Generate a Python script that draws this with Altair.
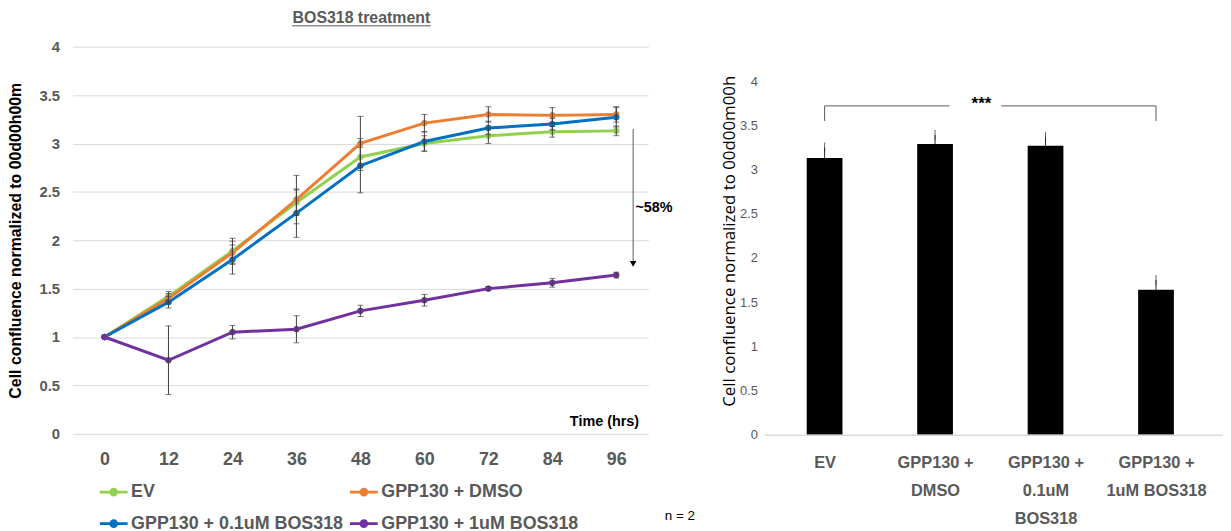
import altair as alt
import pandas as pd

# ---------------- data ----------------
times = ["0", "12", "24", "36", "48", "60", "72", "84", "96"]
series = ["EV", "GPP130 + DMSO", "GPP130 + 0.1uM BOS318", "GPP130 + 1uM BOS318"]
colors = ["#92D050", "#ED7D31", "#0070C0", "#7030A0"]

ev_mean = [1.00, 1.42, 1.89, 2.39, 2.86, 3.00, 3.08, 3.12, 3.13]
dmso_mean = [1.00, 1.40, 1.87, 2.42, 3.00, 3.21, 3.30, 3.29, 3.30]
low_mean = [1.00, 1.36, 1.80, 2.28, 2.77, 3.02, 3.16, 3.20, 3.27]
high_mean = [1.00, 0.76, 1.05, 1.08, 1.27, 1.38, 1.50, 1.56, 1.64]

ev_err = [0.0, 0.05, 0.13, 0.13, 0.10, 0.08, 0.08, 0.055, 0.05]
dmso_err = [0.0, 0.05, 0.12, 0.25, 0.28, 0.09, 0.08, 0.08, 0.08]
low_err = [0.0, 0.06, 0.15, 0.25, 0.28, 0.10, 0.07, 0.06, 0.10]
high_err = [0.0, 0.355, 0.07, 0.14, 0.058, 0.06, 0.02, 0.045, 0.03]

bar_labels = [["EV"], ["GPP130 +", "DMSO"], ["GPP130 +", "0.1uM", "BOS318"], ["GPP130 +", "1uM BOS318"]]
bar_pos = [0, 1, 2, 3]
bar_vals = [3.13, 3.29, 3.27, 1.64]
bar_err = [0.12, 0.10, 0.10, 0.11]

y_ticks = [0, 0.5, 1, 1.5, 2, 2.5, 3, 3.5, 4]

# ---------------- tables ----------------
rows = []
for s, m, e in zip(series, [ev_mean, dmso_mean, low_mean, high_mean],
                   [ev_err, dmso_err, low_err, high_err]):
    for i, (t, mv, ev) in enumerate(zip(times, m, e)):
        rows.append({"time": t, "idx": i, "series": s, "mean": mv, "err": ev,
                     "lo": mv - ev, "hi": mv + ev})
df = pd.DataFrame(rows)
df_err = df[df["err"] > 0]
caps = pd.concat([
    df_err[["time", "series"]].assign(v=df_err["lo"]),
    df_err[["time", "series"]].assign(v=df_err["hi"]),
])

FONT = "Liberation Sans"
GRAY = "#595959"
LEG_PATH = "M-1,0L1,0M-0.2,0A0.2,0.2,0,1,1,0.2,0A0.2,0.2,0,1,1,-0.2,0Z"

xenc = alt.X("time:O", sort=times,
             scale=alt.Scale(type="point", domain=times, padding=0.5),
             axis=alt.Axis(title=None, labelAngle=0, labelFont=FONT, labelFontWeight="bold",
                           labelFontSize=18, labelColor=GRAY, labelPadding=17,
                           ticks=False, domain=False, grid=False))
yscale = alt.Scale(domain=[0, 4], nice=False, zero=True)
yaxis = alt.Axis(title="Cell confluence normalized to 00d00h00m", titleFont=FONT,
                 titleFontSize=16, titleFontWeight="bold", titleColor="black", titleX=-49,
                 values=y_ticks, format=".2~f", labelFont=FONT, labelFontSize=15,
                 labelFontWeight="bold", labelColor=GRAY, labelPadding=13, ticks=False,
                 domain=False, gridColor="#d9d9d9", gridWidth=1, labelOverlap=False)

legend = alt.Legend(title=None, orient="none", legendX=26, legendY=433, columns=2,
                    direction="horizontal",
                    symbolType=LEG_PATH, symbolSize=784, symbolStrokeWidth=3,
                    labelFont=FONT, labelFontSize=18, labelFontWeight="bold",
                    labelColor=GRAY, labelOffset=2, labelLimit=400,
                    columnPadding=0, rowPadding=7, symbolOpacity=1)
cscale = alt.Scale(domain=series, range=colors)
senc = alt.Stroke("series:N", scale=cscale, legend=legend)
fenc = alt.Fill("series:N", scale=cscale, legend=legend)

base = alt.Chart(df)
lines = base.mark_line(strokeWidth=3).encode(
    x=xenc, y=alt.Y("mean:Q", scale=yscale, axis=yaxis), stroke=senc, order="idx:Q")
points = base.mark_point(filled=True, size=32, opacity=1, strokeWidth=1).encode(
    x=xenc, y=alt.Y("mean:Q", scale=yscale), fill=fenc, stroke=senc)
ebars = alt.Chart(df_err).mark_rule(color="#404040", strokeWidth=1).encode(
    x=xenc, y=alt.Y("lo:Q", scale=yscale), y2="hi:Q")
ecaps = alt.Chart(caps).mark_tick(color="#404040", thickness=1, size=6).encode(
    x=xenc, y=alt.Y("v:Q", scale=yscale))

ann_time = alt.Chart(pd.DataFrame({"time": ["96"], "v": [0.12], "t": ["Time (hrs)"]})).mark_text(
    align="right", dx=23, font=FONT, fontSize=14.5, fontWeight="bold", color="black").encode(
    x=xenc, y=alt.Y("v:Q", scale=yscale), text="t:N")
ann_pct = alt.Chart(pd.DataFrame({"time": ["96"], "v": [2.33], "t": ["~58%"]})).mark_text(
    align="center", dx=38, font=FONT, fontSize=14.5, fontWeight="bold", color="black").encode(
    x=xenc, y=alt.Y("v:Q", scale=yscale), text="t:N")
ann_n = alt.Chart(pd.DataFrame({"time": ["96"], "v": [-0.85], "t": ["n = 2"]})).mark_text(
    align="center", dx=64, font=FONT, fontSize=13.5, color="black").encode(
    x=xenc, y=alt.Y("v:Q", scale=yscale), text="t:N")
arrow = alt.Chart(pd.DataFrame({"time": ["96"], "a": [3.15], "b": [1.77]})).mark_rule(
    xOffset=17, color="#595959", strokeWidth=1).encode(
    x=xenc, y=alt.Y("a:Q", scale=yscale), y2="b:Q")
head = alt.Chart(pd.DataFrame({"time": ["96"], "b": [1.755]})).mark_point(
    shape="triangle-down", filled=True, size=45, xOffset=17, color="black", opacity=1).encode(
    x=xenc, y=alt.Y("b:Q", scale=yscale))
title_txt = alt.Chart(pd.DataFrame({"t": ["BOS318 treatment"]})).mark_text(
    font=FONT, fontSize=16, fontWeight="bold", color=GRAY, align="center", baseline="middle").encode(
    x=alt.value(291), y=alt.value(-29), text="t:N")
title_ul = alt.Chart(pd.DataFrame({"t": [0]})).mark_rule(color=GRAY, strokeWidth=1).encode(
    x=alt.value(221), x2=alt.value(361), y=alt.value(-21))

left = alt.layer(lines, points, ebars, ecaps, ann_time, ann_pct, ann_n, arrow, head,
                 title_txt, title_ul).properties(width=580, height=390)

# ---------------- right bar chart ----------------
bdf = pd.DataFrame({"pos": bar_pos, "cond": series, "v": bar_vals, "e": bar_err})
bdf["top"] = bdf["v"] + bdf["e"]
label_expr = "[" + ",".join("[" + ",".join("'%s'" % s for s in lab) + "]" for lab in bar_labels) + "][datum.value]"

bxscale = alt.Scale(domain=[-0.5, 3.5615], nice=False, zero=False)
bx = alt.X("pos:Q", scale=bxscale,
           axis=alt.Axis(title=None, values=bar_pos, labelExpr=label_expr, labelFont=FONT,
                         labelFontSize=16.5, labelFontWeight="bold", labelColor=GRAY,
                         labelLineHeight=28, labelPadding=20, labelFlush=False,
                         labelOverlap=False, ticks=False, domain=True, domainColor="#d9d9d9",
                         domainWidth=1.5, grid=False, zindex=1))
bscale = alt.Scale(domain=[0, 4.39], nice=False, zero=True)
byaxis = alt.Axis(title="Cell confluence normalized to 00d00m00h", titleFont="Open Sans",
                  titleFontSize=17, titleFontWeight="normal", titleColor="black", titleX=-26,
                  values=y_ticks, format=".2~f",
                  labelFont="Liberation Sans Narrow, Liberation Sans, sans-serif",
                  labelFontSize=13, labelColor=GRAY, labelPadding=7, ticks=False,
                  domain=False, grid=False, labelOverlap=False)

bars = alt.Chart(bdf).mark_bar(size=36, color="black").encode(
    x=bx, y=alt.Y("v:Q", scale=bscale, axis=byaxis))
berr = alt.Chart(bdf).mark_rule(color="#262626", strokeWidth=1).encode(
    x=bx, y=alt.Y("v:Q", scale=bscale), y2="top:Q")
bcap = alt.Chart(bdf).mark_tick(color="#262626", thickness=1, size=10).encode(
    x=bx, y=alt.Y("top:Q", scale=bscale))

seg = pd.DataFrame({"x": [0, 0, 1.60, 3], "x2": [0, 1.13, 3, 3],
                    "y": [3.55, 3.72, 3.72, 3.55], "y2": [3.72, 3.72, 3.72, 3.72]})
bracket = alt.Chart(seg).mark_rule(color="#595959", strokeWidth=1).encode(
    x=alt.X("x:Q", scale=bxscale), x2="x2:Q", y=alt.Y("y:Q", scale=bscale), y2="y2:Q")
stars = alt.Chart(pd.DataFrame({"x": [1.42], "y": [3.74], "t": ["***"]})).mark_text(
    font=FONT, fontSize=17, fontWeight="bold", color="black").encode(
    x=alt.X("x:Q", scale=bxscale), y=alt.Y("y:Q", scale=bscale), text="t:N")

right = alt.layer(bars, berr, bcap, bracket, stars).properties(width=462, height=391)

chart = alt.hconcat(left, right, spacing=117, bounds="flush").properties(
    padding=0, background="white"
).configure_view(stroke=None)

chart.save("out.html", embed_options={"renderer": "svg", "actions": False})
